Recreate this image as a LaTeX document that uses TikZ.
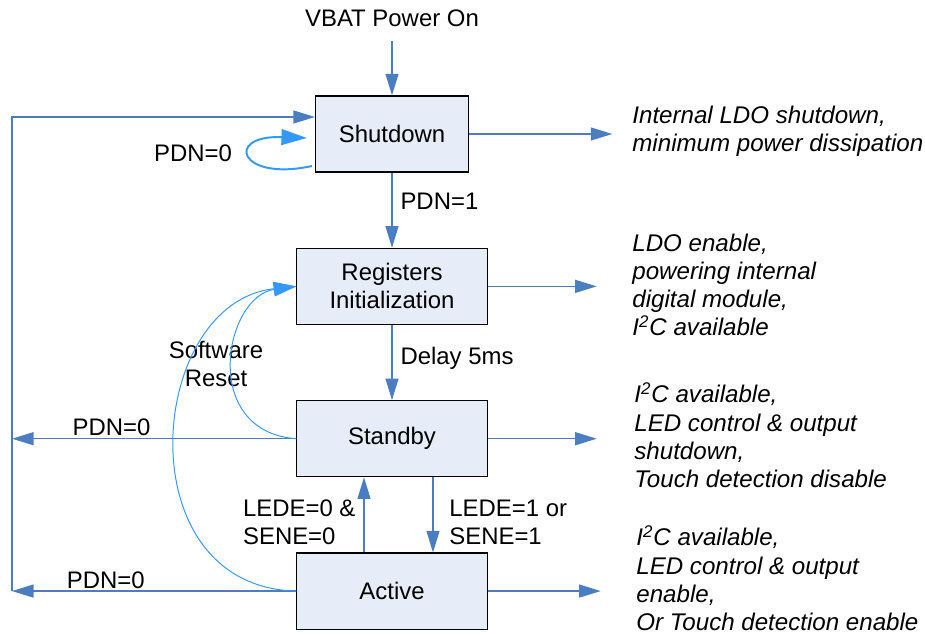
\documentclass[tikz,border=0pt]{standalone}
\usepackage{fontspec}
\setmainfont{Liberation Sans}
\usetikzlibrary{arrows.meta, positioning, calc}
\definecolor{stateFill}{RGB}{230,237,248}
\definecolor{flowBlue}{RGB}{74,126,193}
\definecolor{resetBlue}{RGB}{51,153,255}

\begin{document}
\begin{tikzpicture}[x=0.51pt, y=-0.51pt, node distance=38.3pt,
    font=\fontsize{12.2}{14.3}\selectfont,
    state/.style={draw=black, line width=0.6pt, fill=stateFill, minimum height=38.8pt, align=center},
    flow/.style={-{Triangle[length=11pt,width=6.6pt]}, flowBlue, line width=0.7pt},
    reset/.style={-{Triangle[length=11.5pt,width=7pt]}, resetBlue, line width=0.5pt},
    desc/.style={anchor=west, align=left, inner sep=0pt, font=\fontsize{12.3}{14.3}\selectfont\itshape},
    lbl/.style={inner sep=1pt, text=black}]
\useasboundingbox (0,0) rectangle (925,634);

% states
\node (vbat) at (392,18) {VBAT Power On};
\node[state, minimum width=78pt] (shut) at (392,134) {Shutdown};
\node[state, minimum width=97pt, below=of shut] (reg) {Registers\\Initialization};
\node[state, minimum width=97pt, below=of reg] (sby) {Standby};
\node[state, minimum width=97pt, below=of sby] (act) {Active};

% what each state does
\node[desc] (dshut) at (632,131) {Internal LDO shutdown,\\minimum power dissipation};
\node[desc] (dreg) at (632,285) {LDO enable,\\powering internal\\digital module,\\I\textsuperscript{2}C available};
\node[desc] (dsby) at (634,435) {I\textsuperscript{2}C available,\\LED control \& output\\shutdown,\\Touch detection disable};
\node[desc] (dact) at (636,578) {I\textsuperscript{2}C available,\\LED control \& output\\enable,\\Or Touch detection enable};

\node (pdnloop) at (193,153) {PDN=0};
\node[align=center] (swreset) at (216,364) {Software\\Reset};
\coordinate (lft) at (12,117);

% main flow
\draw[flow, shorten <=4pt] (vbat) -- (shut);
\draw[flow] (shut) -- node[right, lbl, pos=0.38, xshift=3pt] {PDN=1} (reg);
\draw[flow] (reg) -- node[right, lbl, pos=0.45, xshift=3pt] {Delay 5ms} (sby);
\draw[flow] ($(act.north)+(-28,0)$) -- node[left, lbl, align=left, pos=0.4, xshift=-3pt] {LEDE=0 \&\\SENE=0} ($(sby.south)+(-28,0)$);
\draw[flow] ($(sby.south)+(41,0)$) -- node[right, lbl, align=left, pos=0.6, xshift=7pt] {LEDE=1 or\\SENE=1} ($(act.north)+(41,0)$);

\draw[flow, shorten >=10pt] (shut.east) -- (shut.east -| dshut.west);
\draw[flow, shorten >=18pt] (reg.east) -- (reg.east -| dreg.west);
\draw[flow, shorten >=19pt] (sby.east) -- (sby.east -| dsby.west);
\draw[flow, shorten >=18pt] (act.east) -- (act.east -| dact.west);

% back to shutdown
\draw[flow] (sby.west) -- node[above, lbl, pos=0.65] {PDN=0} (sby.west -| lft);
\draw[flow] (act.west) -- node[above, lbl, pos=0.67] {PDN=0} (act.west -| lft);
\draw[flow] (act.west -| lft) -- (lft) -- (lft -| shut.west);

\draw[resetBlue, line width=1pt, -{Triangle[length=13pt,width=8pt]}]
    ($(shut.west)+(-3,32)$) .. controls ($(shut.west)+(-76,48)$) and ($(shut.west)+(-91,1)$) .. ($(shut.west)+(-8,4)$);

% software reset
\draw[reset] (sby.west) .. controls +(-97,-7) and +(-72,10) .. (reg.west);
\draw[reset] (act.west) .. controls +(-172,-4) and +(-150,16) .. (reg.west);
\end{tikzpicture}
\end{document}
